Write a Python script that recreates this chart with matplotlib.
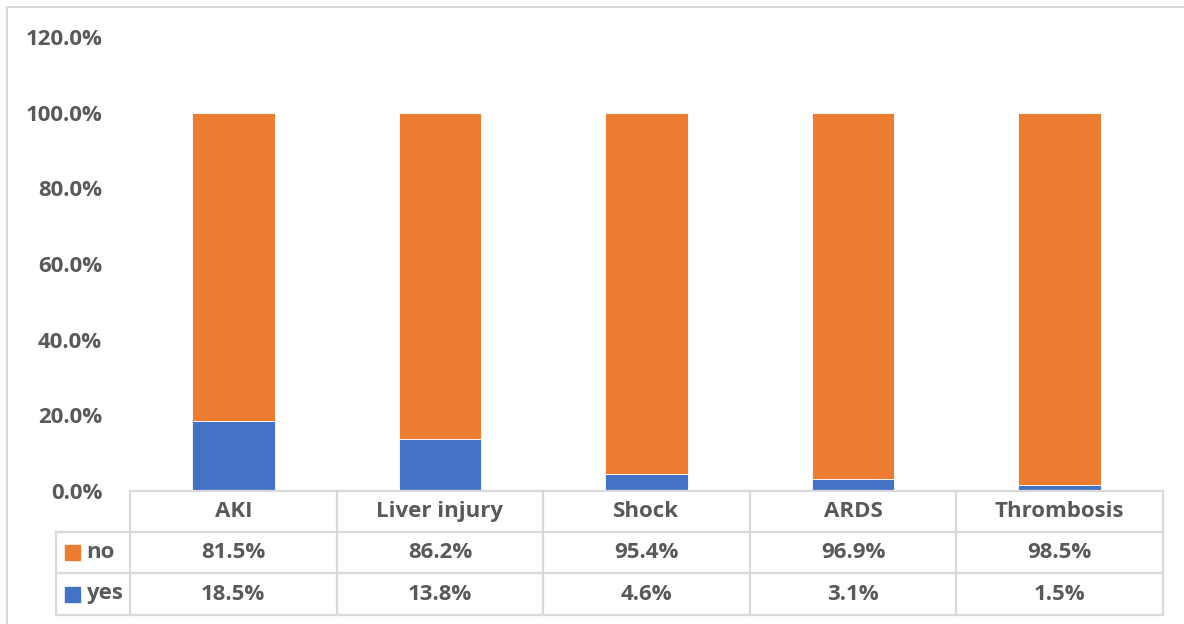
import matplotlib.pyplot as plt
from matplotlib.patches import Rectangle
from matplotlib.ticker import FuncFormatter

categories = ['AKI', 'Liver injury', 'Shock', 'ARDS', 'Thrombosis']
yes_pct = [18.5, 13.8, 4.6, 3.1, 1.5]
no_pct = [81.5, 86.2, 95.4, 96.9, 98.5]
series_names = ['no', 'yes']

ORANGE = '#ED7D31'
BLUE = '#4472C4'
TEXT = '#595959'
GRID = '#D9D9D9'
FONT = 'Open Sans'
FS = 16

W, H = 1184, 624
fig = plt.figure(figsize=(W / 100, H / 100), dpi=100)


def px_box(x0, y0, x1, y1):
    # pixel box (top-left origin) -> figure fraction rect
    return [x0 / W, 1 - y1 / H, (x1 - x0) / W, (y1 - y0) / H]


# outer chart frame (only left and top edges fall inside the image)
fig.add_artist(plt.Line2D([7 / W, 7 / W], [0, 1 - 7 / H], transform=fig.transFigure,
                          color=GRID, lw=1.5))
fig.add_artist(plt.Line2D([7 / W, 1], [1 - 7 / H, 1 - 7 / H], transform=fig.transFigure,
                          color=GRID, lw=1.5))

# main plot
left, right, top, bottom = 130, 1163, 37, 491
ax = fig.add_axes(px_box(left, top, right, bottom))
x = list(range(len(categories)))
yes = [v / 100 for v in yes_pct]
no = [v / 100 for v in no_pct]
ax.bar(x, yes, width=0.4, color=BLUE, edgecolor='white', linewidth=0.6)
ax.bar(x, no, width=0.4, bottom=yes, color=ORANGE, edgecolor='white', linewidth=0.6)
ax.set_xlim(-0.5, len(categories) - 0.5)
ax.set_ylim(0, 1.2)
ax.set_yticks([0, 0.2, 0.4, 0.6, 0.8, 1.0, 1.2])
ax.yaxis.set_major_formatter(FuncFormatter(lambda v, _: f'{v * 100:.1f}%'))
ax.set_xticks([])
ax.tick_params(axis='y', length=0, pad=20, labelsize=FS, labelcolor=TEXT)
for lab in ax.get_yticklabels():
    lab.set_fontfamily(FONT)
    lab.set_fontweight('bold')
for s in ax.spines.values():
    s.set_visible(False)

# data table below the bars
label_left = 56
unit = (len(categories)) / (right - left)
tx0 = -0.5 - (left - label_left) * unit
row_y = [491, 532, 573, 615]
tax = fig.add_axes(px_box(label_left, row_y[0], right, row_y[-1]))
tax.set_xlim(tx0, len(categories) - 0.5)
tax.set_ylim(row_y[-1], row_y[0])
tax.axis('off')

line_kw = dict(color=GRID, lw=1.6, clip_on=False, solid_capstyle='projecting')
tax.plot([-0.5, len(categories) - 0.5], [row_y[0]] * 2, **line_kw)
for y in row_y[1:]:
    tax.plot([tx0, len(categories) - 0.5], [y, y], **line_kw)
for i in range(len(categories) + 1):
    tax.plot([i - 0.5] * 2, [row_y[0], row_y[-1]], **line_kw)
tax.plot([tx0, tx0], [row_y[1], row_y[-1]], **line_kw)

txt_kw = dict(ha='center', va='center', fontsize=FS, color=TEXT,
              fontfamily=FONT, fontweight='bold')
for i, cat in enumerate(categories):
    tax.text(i, (row_y[0] + row_y[1]) / 2, cat, **txt_kw)
    tax.text(i, (row_y[1] + row_y[2]) / 2, f'{no_pct[i]:.1f}%', **txt_kw)
    tax.text(i, (row_y[2] + row_y[3]) / 2, f'{yes_pct[i]:.1f}%', **txt_kw)

# legend keys in the row header cells
key = 15 * unit
for name, color, (ya, yb) in zip(series_names, [ORANGE, BLUE],
                                 [(row_y[1], row_y[2]), (row_y[2], row_y[3])]):
    yc = (ya + yb) / 2
    kx = tx0 + 9 * unit
    tax.add_patch(Rectangle((kx, yc - 7.5), key, 15, color=color, clip_on=False))
    tax.text(kx + key + 6 * unit, yc, name, ha='left', va='center', fontsize=FS,
             color=TEXT, fontfamily=FONT, fontweight='bold')

fig.savefig('out.png', dpi=100, facecolor='white')
